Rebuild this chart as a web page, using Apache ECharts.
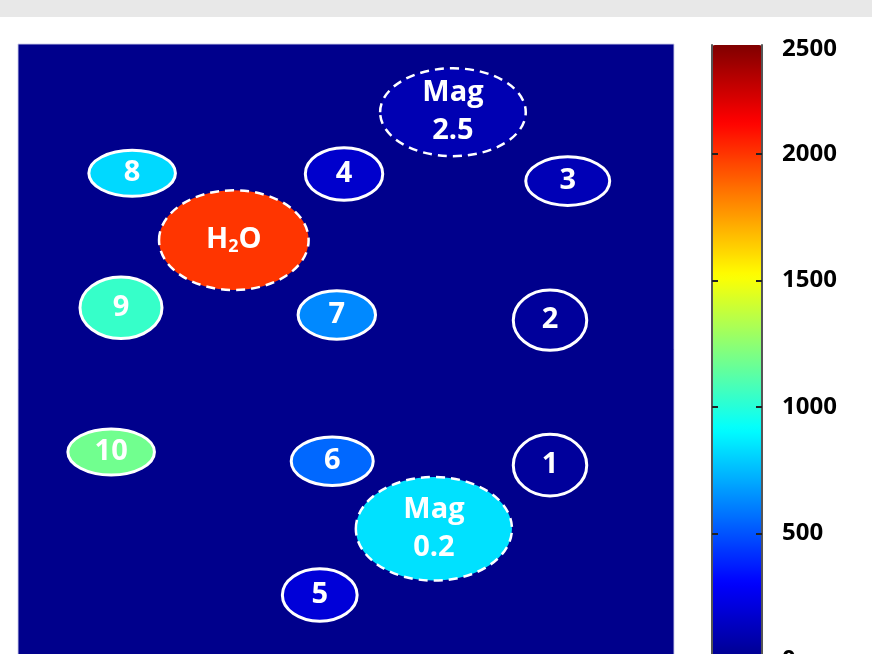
<!DOCTYPE html>
<html>
<head>
<meta charset="utf-8">
<style>
  html, body { margin: 0; padding: 0; background: #ffffff; }
  #chart { width: 872px; height: 654px; }
</style>
<script src="https://cdn.jsdelivr.net/npm/echarts@6/dist/echarts.min.js"></script>
</head>
<body>
<div id="chart"></div>
<script>
// Phantom vial layout (field of view 0..100 on both axes, y grows downward)
const vialNames = ['Mag\n2.5', '8', '4', '3', 'H{sub|2}O', '9', '7', '2', '10', '6', '1', 'Mag\n0.2', '5'];
const centerX  = [66.3, 17.4, 49.7, 83.8, 32.9, 15.7, 48.6, 81.1, 14.2, 47.9, 81.1, 63.4, 46.0];
const centerY  = [10.4, 19.7, 19.8, 20.9, 29.9, 40.2, 41.3, 42.1, 62.2, 63.6, 64.2, 73.9, 84.0];
const radiusX  = [11.1, 6.6, 5.9, 6.4, 11.4, 6.25, 5.9, 5.6, 6.6, 6.25, 5.6, 11.9, 5.7];
const radiusY  = [6.7, 3.5, 4.0, 3.7, 7.6, 4.7, 3.7, 4.6, 3.5, 3.7, 4.7, 7.9, 4.0];
// Mean signal inside each vial
const vialValues = [100, 820, 170, 110, 2000, 1040, 630, 40, 1180, 550, 40, 840, 200];
// Reference vials are outlined with a dashed line
const referenceVial = [true, false, false, false, true, false, false, false, false, false, false, true, false];

// Colour bar
const barMin = 0;
const barMax = 2430;
const tickValues = [0, 500, 1000, 1500, 2000];
const labelValues = [0, 500, 1000, 1500, 2000, 2415];
const tickLabels = ['0', '500', '1000', '1500', '2000', '2500'];

const jet = ['#00008c', '#0000ff', '#0080ff', '#00ffff', '#80ff80', '#ffff00', '#ff8000', '#ff0000', '#800000'];

const vialData = vialNames.map((n, i) => [centerX[i], centerY[i], radiusX[i], radiusY[i], vialValues[i], i]);

const chart = echarts.init(document.getElementById('chart'), null, { renderer: 'canvas' });

const FONT = '"Open Sans", "Noto Sans", sans-serif';

const barAxisCommon = {
  type: 'value',
  gridIndex: 1,
  min: barMin,
  max: barMax,
  z: 10,
  splitLine: { show: false },
  axisLine: { show: true, lineStyle: { color: '#555555', width: 2 } },
  axisTick: {
    show: true, inside: true, length: 6,
    customValues: tickValues,
    lineStyle: { color: '#222222', width: 2 }
  }
};

chart.setOption({
  backgroundColor: '#ffffff',
  animation: false,
  graphic: [{
    type: 'rect', left: 0, top: 0, z: -1,
    shape: { width: 872, height: 17 },
    style: { fill: '#e8e8e8' }
  }],
  grid: [
    {
      left: 18, top: 44, width: 656, height: 656,
      outerBoundsMode: 'none',
      show: true, backgroundColor: jet[0],
      borderColor: 'rgba(205,205,235,0.9)', borderWidth: 1
    },
    { left: 712, top: 45, width: 50, height: 615, outerBoundsMode: 'none', show: false }
  ],
  xAxis: [
    { type: 'value', gridIndex: 0, min: 0, max: 100, show: false },
    {
      type: 'value', gridIndex: 1, min: 0, max: 1, position: 'top', z: 10,
      axisLine: { show: true, lineStyle: { color: '#555555', width: 2 } },
      axisTick: { show: false }, axisLabel: { show: false }, splitLine: { show: false }
    }
  ],
  yAxis: [
    { type: 'value', gridIndex: 0, min: 0, max: 100, inverse: true, show: false },
    Object.assign({}, barAxisCommon, { position: 'left', axisLabel: { show: false } }),
    Object.assign({}, barAxisCommon, {
      position: 'right',
      axisLabel: {
        show: true, margin: 20,
        customValues: labelValues,
        formatter: (v) => tickLabels[labelValues.indexOf(v)],
        color: '#000000', fontFamily: FONT, fontWeight: 'bold', fontSize: 24
      }
    })
  ],
  visualMap: {
    type: 'continuous',
    seriesIndex: 0,
    dimension: 4,
    min: barMin,
    max: barMax,
    inRange: { color: jet },
    orient: 'vertical',
    left: 712, top: 45,
    itemWidth: 50, itemHeight: 615,
    padding: 0,
    calculable: false,
    hoverLink: false,
    text: null,
    showLabel: false
  },
  series: [{
    type: 'custom',
    coordinateSystem: 'cartesian2d',
    xAxisIndex: 0, yAxisIndex: 0,
    data: vialData,
    renderItem(params, api) {
      const c = api.coord([api.value(0), api.value(1)]);
      const s = api.size([api.value(2), api.value(3)]);
      const i = api.value(5);
      const dashed = referenceVial[i];
      return {
        type: 'group',
        children: [
          {
            type: 'ellipse',
            shape: { cx: c[0], cy: c[1], rx: s[0], ry: s[1] },
            style: {
              fill: api.visual('color'),
              stroke: '#ffffff',
              lineWidth: dashed ? 2.5 : 3,
              lineDash: dashed ? [9, 6] : null
            }
          },
          {
            type: 'text',
            style: {
              text: vialNames[i],
              x: c[0], y: c[1],
              align: 'center', verticalAlign: 'middle',
              fill: '#ffffff',
              font: 'bold 29px ' + FONT,
              lineHeight: 38,
              rich: {
                sub: { fontSize: 18, fontWeight: 'bold', fontFamily: FONT, fill: '#ffffff', padding: [14, 0, 0, 0] }
              }
            }
          }
        ]
      };
    }
  }]
});
</script>
</body>
</html>
